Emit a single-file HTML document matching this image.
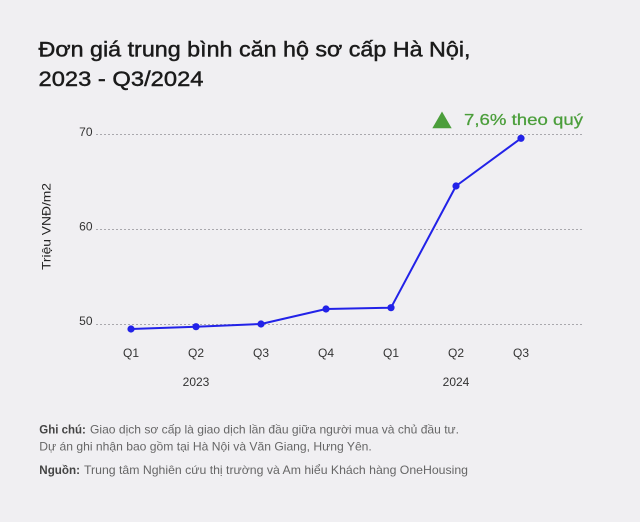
<!DOCTYPE html>
<html>
<head>
<meta charset="utf-8">
<style>
html,body{margin:0;padding:0;background:#f0eff2;}
svg{display:block;}
text{font-family:"Liberation Sans","DejaVu Sans",sans-serif;}
</style>
</head>
<body>
<svg width="640" height="522" viewBox="0 0 640 522" xmlns="http://www.w3.org/2000/svg">
<rect x="0" y="0" width="640" height="522" fill="#f0eff2"/>

<!-- Title -->
<text x="38.5" y="56.7" font-size="21" fill="#1a1a1a" stroke="#1a1a1a" stroke-width="0.45" textLength="432" lengthAdjust="spacingAndGlyphs">Đơn giá trung bình căn hộ sơ cấp Hà Nội,</text>
<text x="38.5" y="86" font-size="21" fill="#1a1a1a" stroke="#1a1a1a" stroke-width="0.45" textLength="165" lengthAdjust="spacingAndGlyphs">2023 - Q3/2024</text>

<!-- Gridlines -->
<g stroke="#a9a8ad" stroke-width="1" stroke-dasharray="2,2">
<line x1="96" y1="134.5" x2="583" y2="134.5"/>
<line x1="96" y1="229.5" x2="583" y2="229.5"/>
<line x1="96" y1="324.5" x2="583" y2="324.5"/>
</g>

<!-- Y tick labels -->
<g font-size="12" fill="#333" text-anchor="end">
<text x="92.5" y="135.8">70</text>
<text x="92.5" y="230.7">60</text>
<text x="92.5" y="325.2">50</text>
</g>

<!-- Y axis title -->
<text transform="translate(50.5,226.5) rotate(-90)" x="0" y="0" font-size="12" fill="#222" text-anchor="middle" textLength="87" lengthAdjust="spacingAndGlyphs">Triệu VNĐ/m2</text>

<!-- X tick labels -->
<g font-size="12" fill="#333" text-anchor="middle">
<text x="131" y="357">Q1</text>
<text x="196" y="357">Q2</text>
<text x="261" y="357">Q3</text>
<text x="326" y="357">Q4</text>
<text x="391" y="357">Q1</text>
<text x="456" y="357">Q2</text>
<text x="521" y="357">Q3</text>
<text x="196" y="386">2023</text>
<text x="456" y="386">2024</text>
</g>

<!-- Line -->
<polyline points="131,329 196,326.7 261,324 326,309 391,307.7 456,186 521,138.3" fill="none" stroke="#2222e8" stroke-width="2" stroke-linejoin="round"/>
<g fill="#2222e8">
<circle cx="131" cy="329" r="3.6"/>
<circle cx="196" cy="326.7" r="3.6"/>
<circle cx="261" cy="324" r="3.6"/>
<circle cx="326" cy="309" r="3.6"/>
<circle cx="391" cy="307.7" r="3.6"/>
<circle cx="456" cy="186" r="3.6"/>
<circle cx="521" cy="138.3" r="3.6"/>
</g>

<!-- Annotation -->
<polygon points="432.3,128.3 451.7,128.3 442,111.5" fill="#4b9e3b"/>
<text x="464" y="124.8" font-size="16" fill="#4b9e3b" stroke="#4b9e3b" stroke-width="0.25" textLength="119" lengthAdjust="spacingAndGlyphs">7,6% theo quý</text>

<!-- Footer -->
<text x="39.3" y="433.3" font-size="12" font-weight="bold" fill="#444" textLength="46.5" lengthAdjust="spacingAndGlyphs">Ghi chú:</text>
<text x="90" y="433.3" font-size="12" fill="#666" textLength="369" lengthAdjust="spacingAndGlyphs">Giao dịch sơ cấp là giao dịch lần đầu giữa người mua và chủ đầu tư.</text>
<text x="39.3" y="450.5" font-size="12" fill="#666" textLength="332.5" lengthAdjust="spacingAndGlyphs">Dự án ghi nhận bao gồm tại Hà Nội và Văn Giang, Hưng Yên.</text>
<text x="39.3" y="474" font-size="12" font-weight="bold" fill="#444" textLength="40.7" lengthAdjust="spacingAndGlyphs">Nguồn:</text>
<text x="84" y="474" font-size="12" fill="#666" textLength="384" lengthAdjust="spacingAndGlyphs">Trung tâm Nghiên cứu thị trường và Am hiểu Khách hàng OneHousing</text>
</svg>
</body>
</html>
